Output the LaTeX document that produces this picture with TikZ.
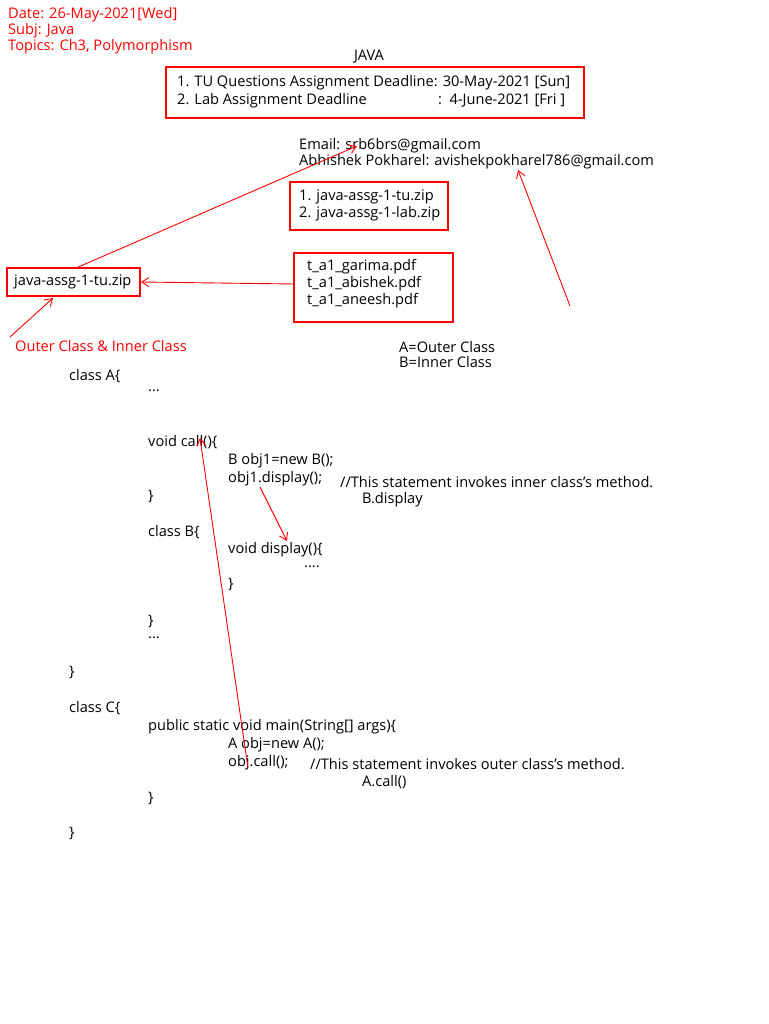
\documentclass[tikz,border=0pt]{standalone}
\usepackage{fontspec}
\setmainfont{Open Sans}
\usetikzlibrary{arrows.meta}
\begin{document}
\begin{tikzpicture}[x=1pt,y=-1pt,
  t/.style={anchor=west,inner sep=0pt,font=\fontsize{14.6}{16}\selectfont},
  rt/.style={t,text=red},
  rbox/.style={draw=red,line width=1.2pt},
  rarr/.style={draw=red,line width=0.9pt,-{Straight Barb[length=7pt,width=9pt]}}]
\useasboundingbox[fill=white] (0,0) rectangle (768,1024);
\node[rt] (d1) at (8,15) {Date: 26-May-2021[Wed]};
\node[rt] (d2) at (8,31) {Subj: Java};
\node[rt] (d3) at (8,47) {Topics: Ch3, Polymorphism};
\node[t,anchor=center] (java) at (369,57) {JAVA};
\draw[rbox] (166,67) rectangle (584,118);
\node[t] (l1) at (177,83) {1. TU Questions Assignment Deadline: 30-May-2021 [Sun]};
\node[t] (l2) at (177,101) {2. Lab Assignment Deadline};
\node[t] (l2b) at (438,101) {:\ \ 4-June-2021 [Fri ]};
\node[t] (em) at (299,146) {Email: srb6brs@gmail.com};
\node[t] (ab) at (299,162) {Abhishek Pokharel: avishekpokharel786@gmail.com};
\draw[rbox] (290,182) rectangle (448,230);
\node[t] (z1) at (299,197) {1. java-assg-1-tu.zip};
\node[t] (z2) at (299,214) {2. java-assg-1-lab.zip};
\draw[rbox] (294,253) rectangle (453,322);
\node[t] (p1) at (307,267) {t\_a1\_garima.pdf};
\node[t] (p2) at (307,284) {t\_a1\_abishek.pdf};
\node[t] (p3) at (307,301) {t\_a1\_aneesh.pdf};
\draw[rbox] (7,268) rectangle (140,296);
\node[t] (zip) at (14,282) {java-assg-1-tu.zip};
\coordinate (a1s) at (294,284); \coordinate (a1e) at (141,282);
\coordinate (a2s) at (76,268); \coordinate (a2e) at (357,146);
\coordinate (a3s) at (570,306); \coordinate (a3e) at (518,170);
\coordinate (a4s) at (10,337); \coordinate (a4e) at (53,298);
\draw[rarr] (a1s) -- (a1e);
\draw[rarr] (a2s) -- (a2e);
\draw[rarr] (a3s) -- (a3e);
\draw[rarr] (a4s) -- (a4e);
\node[rt] (oc) at (15,346) {Outer Class \& Inner Class};
\node[t] (ao) at (399,347) {A=Outer Class};
\node[t] (bi) at (399,362) {B=Inner Class};
\node[t] (c1) at (69,376) {class A\{};
\node[t] (c2) at (148,391) {...};
\node[t] (c3) at (148,442) {void call()\{};
\node[t] (c4) at (228,461) {B obj1=new B();};
\node[t] (c5) at (228,479) {obj1.display();};
\node[t] (c5c) at (340,482) {//This statement invokes inner class's method.};
\node[t] (c5d) at (362,500) {B.display};
\node[t] (c6) at (148,496) {\}};
\node[t] (c7) at (148,532) {class B\{};
\node[t] (c8) at (228,550) {void display()\{};
\node[t] (c9) at (304,567) {....};
\node[t] (c10) at (228,584) {\}};
\node[t] (c11) at (148,621) {\}};
\node[t] (c12) at (148,638) {...};
\node[t] (c13) at (69,672) {\}};
\node[t] (c14) at (69,708) {class C\{};
\node[t] (c15) at (148,727) {public static void main(String[] args)\{};
\node[t] (c16) at (228,745) {A obj=new A();};
\node[t] (c17) at (228,763) {obj.call();};
\node[t] (c17c) at (310,764) {//This statement invokes outer class's method.};
\node[t] (c17d) at (362,782) {A.call()};
\node[t] (c18) at (148,798) {\}};
\node[t] (c19) at (69,833) {\}};
\coordinate (b1s) at (248,768); \coordinate (b1e) at (200,438);
\coordinate (b2s) at (260,487); \coordinate (b2e) at (287,541);
\draw[rarr] (b1s) -- (b1e);
\draw[rarr] (b2s) -- (b2e);
\end{tikzpicture}
\end{document}
